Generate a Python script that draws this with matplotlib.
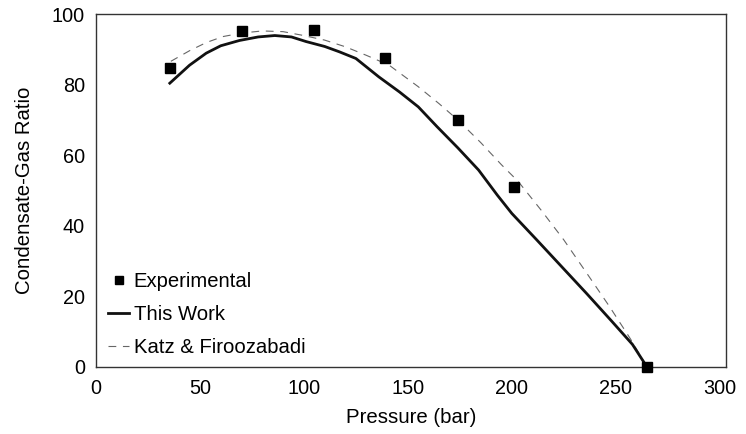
import matplotlib
matplotlib.use('Agg')
import matplotlib.pyplot as plt

plt.rcParams['font.family'] = ['Liberation Sans', 'DejaVu Sans']

# Experimental condensate-gas ratio
exp_pressure = [35.5, 70, 105, 139, 174, 201, 265]
exp_ratio = [84.8, 95.3, 95.6, 87.5, 70.0, 51.0, 0.0]

# This work (solid line)
work_pressure = [35.5, 45, 53, 60, 69, 78, 86, 94, 101, 110, 117, 125, 136, 146, 155, 164,
                 174, 184, 193, 200, 212, 224, 236, 248, 258, 265]
work_ratio = [80.4, 85.5, 88.9, 91.0, 92.5, 93.5, 93.9, 93.5, 92.2, 90.8, 89.3, 87.4, 82.2,
              77.9, 73.7, 68.1, 62.1, 55.8, 48.7, 43.5, 36.0, 28.4, 20.8, 13.0, 6.4, 0.0]

# Katz & Firoozabadi (dashed line)
katz_pressure = [36, 45, 53, 61, 70, 80, 90, 99, 110, 120, 130, 141, 155, 165, 174, 185,
                 195, 203, 214, 225, 236, 247, 257, 265]
katz_ratio = [86.6, 89.6, 91.9, 93.6, 94.6, 95.2, 95.0, 94.0, 92.6, 90.7, 88.3, 85.5, 79.4,
              74.6, 70.0, 63.6, 57.3, 52.6, 44.5, 36.0, 26.6, 17.1, 8.0, 0.0]

fig = plt.figure(figsize=(7.46, 4.34), dpi=100)
ax = fig.add_axes([96 / 746, 1 - 367 / 434, 630 / 746, 353 / 434])

ax.plot(work_pressure, work_ratio, color='#111111', lw=2.0, label='This Work', zorder=3)
ax.plot(katz_pressure, katz_ratio, color='#666666', lw=0.8, linestyle=(0, (7, 6)),
        label='Katz & Firoozabadi', zorder=2)
ax.plot(exp_pressure, exp_ratio, linestyle='none', marker='s', markersize=7.2,
        color='#000000', label='Experimental', zorder=4, clip_on=False)

ax.set_xlim(0, 303)
ax.set_ylim(0, 100)
ax.set_xticks([0, 50, 100, 150, 200, 250, 300])
ax.set_yticks([0, 20, 40, 60, 80, 100])
ax.tick_params(axis='x', length=0, pad=9, labelsize=14.3)
ax.tick_params(axis='y', length=0, pad=8, labelsize=14.3)

for s in ax.spines.values():
    s.set_color('#333333')
    s.set_linewidth(1.0)

ax.set_xlabel('Pressure (bar)', fontsize=14.7, labelpad=7)
ax.set_ylabel('Condensate-Gas Ratio', fontsize=14.7, labelpad=13)

handles, labels = ax.get_legend_handles_labels()
order = [2, 0, 1]
ax.legend([handles[i] for i in order], [labels[i] for i in order],
          loc='lower left', bbox_to_anchor=(0.019, 0.028), frameon=False,
          fontsize=14.6, handlelength=1.05, handletextpad=0.22, labelspacing=0.7,
          borderpad=0, borderaxespad=0, markerscale=0.75)

fig.savefig('out.png', dpi=100)
